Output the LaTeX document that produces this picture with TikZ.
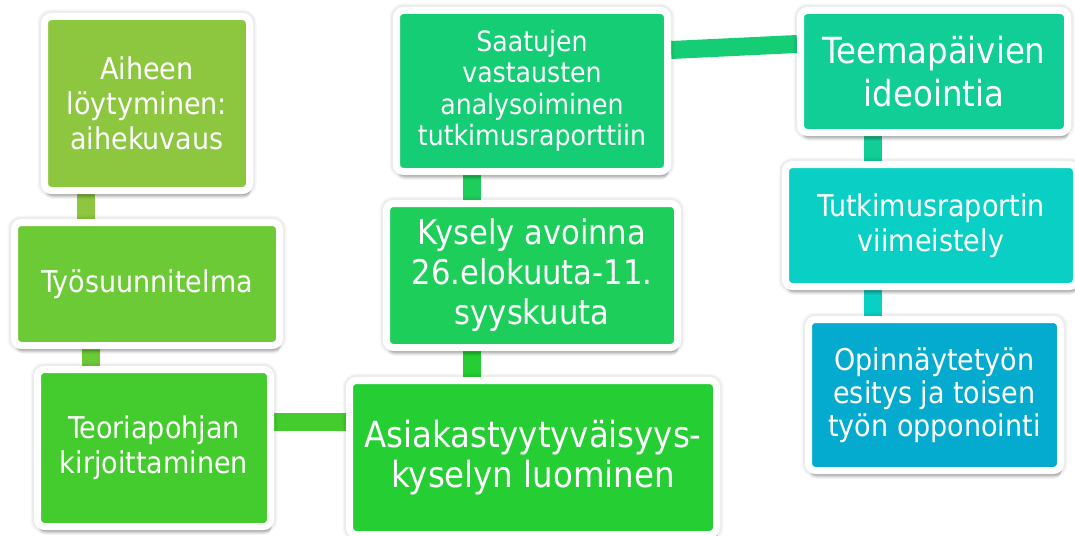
\documentclass[tikz,border=0pt]{standalone}
\usepackage{fontspec}
\setmainfont{DejaVu Sans Condensed}
\usetikzlibrary{shadows,backgrounds}
\definecolor{cA}{HTML}{8DC63F}
\definecolor{cB}{HTML}{6DCA37}
\definecolor{cC}{HTML}{44CB2D}
\definecolor{cD}{HTML}{24CE33}
\definecolor{cE}{HTML}{1ECE5A}
\definecolor{cF}{HTML}{15CD74}
\definecolor{cG}{HTML}{10CE95}
\definecolor{cH}{HTML}{0ACFC4}
\definecolor{cI}{HTML}{04ABCE}
\tikzset{
  stepbox/.style={draw=white, line width=7pt, rounded corners=7pt, text=white,
    align=center, inner sep=0pt,
    preaction={draw=black, draw opacity=0.035, line width=14pt},
    preaction={draw=black, draw opacity=0.04, line width=11pt},
    drop shadow={shadow xshift=1pt, shadow yshift=-8pt, opacity=0.07, fill=black},
    drop shadow={shadow xshift=1.5pt, shadow yshift=-6pt, opacity=0.10, fill=black},
    drop shadow={shadow xshift=1pt, shadow yshift=-4.5pt, opacity=0.12, fill=black}},
  link/.style={line width=18pt},
  fs/.style 2 args={font=\fontsize{#1}{#2}\selectfont}
}
\begin{document}
\begin{tikzpicture}[x=1pt,y=-1pt]
\useasboundingbox (0,0) rectangle (1075,535);
\node[stepbox, fill=cA, minimum width=205pt, minimum height=174pt, fs={30}{35}] (a) at (147,103.5) {Aiheen\\löytyminen:\\aihekuvaus};
\node[stepbox, fill=cB, minimum width=265pt, minimum height=123pt, fs={30}{35}] (b) at (147,284) {Työsuunnitelma};
\node[stepbox, fill=cC, minimum width=233pt, minimum height=157pt, fs={30}{35}] (c) at (154,448) {Teoriapohjan\\kirjoittaminen};
\node[stepbox, fill=cD, minimum width=367pt, minimum height=154pt, fs={36}{40}] (d) at (533,457.5) {Asiakastyytyväisyys-\\kyselyn luominen};
\node[stepbox, fill=cE, minimum width=291pt, minimum height=144pt, fs={34}{40}] (e) at (532,275.5) {Kysely avoinna\\26.elokuuta-11.\\syyskuuta};
\node[stepbox, fill=cF, minimum width=271pt, minimum height=161pt, fs={28}{31.5}] (f) at (532,91) {Saatujen\\vastausten\\analysoiminen\\tutkimusraporttiin};
\node[stepbox, fill=cG, minimum width=267pt, minimum height=122pt, fs={36}{43}] (g) at (934,71.5) {Teemapäivien\\ideointia};
\node[stepbox, fill=cH, minimum width=291pt, minimum height=122pt, fs={30}{35}] (h) at (931,225.5) {Tutkimusraportin\\viimeistely};
\node[stepbox, fill=cI, minimum width=252pt, minimum height=151pt, fs={30}{33}] (i) at (934.5,395) {Opinnäytetyön\\esitys ja toisen\\työn opponointi};
\begin{scope}[on background layer]
\fill[white] (0,0) rectangle (1075,535);
\draw[link, cA] ([xshift=-61pt]a.south) -- ([xshift=-61pt]a.south |- b.north);
\draw[link, cB] ([xshift=-56.5pt]b.south) -- ([xshift=-56.5pt]b.south |- c.north);
\draw[link, cC] (c.east |- 0,422) -- (d.west |- 0,422);
\draw[link, cD] ([xshift=-61pt]d.north) -- ([xshift=-61pt]d.north |- e.south);
\draw[link, cE] ([xshift=-60pt]e.north) -- ([xshift=-60pt]e.north |- f.south);
\draw[link, cF] (f.east |- 0,50) -- (g.west |- 0,44);
\draw[link, cG] ([xshift=-61.5pt]g.south) -- ([xshift=-61.5pt]g.south |- h.north);
\draw[link, cH] ([xshift=-58.5pt]h.south) -- ([xshift=-58.5pt]h.south |- i.north);
\end{scope}
\end{tikzpicture}
\end{document}
